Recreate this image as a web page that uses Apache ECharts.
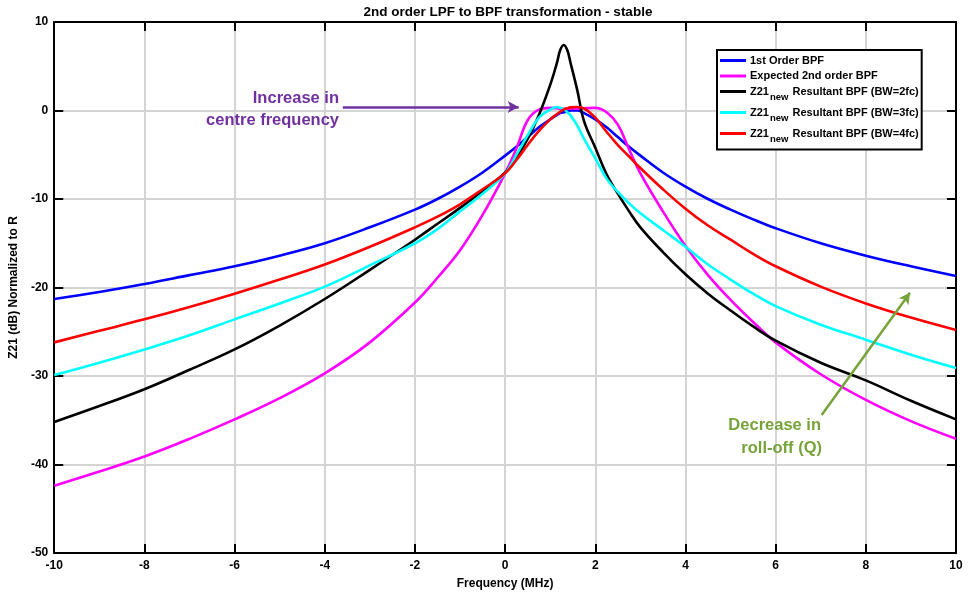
<!DOCTYPE html>
<html>
<head>
<meta charset="utf-8">
<script src="https://cdn.jsdelivr.net/npm/echarts@6/dist/echarts.min.js"></script>
<style>
html,body{margin:0;padding:0;background:#fff;}
#chart{width:968px;height:598px;}
</style>
</head>
<body>
<div id="chart"></div>
<script>
// Frequency grid (MHz) shared by all curves
const freq = [-10,-9,-8,-7,-6,-5,-4,-3,-2,-1.5,-1,-0.5,0,0.25,0.5,0.75,1,1.15,1.22,1.3,1.38,1.45,1.6,1.75,2,2.25,2.5,2.75,3,3.5,4,4.5,5,5.5,6,7,8,9,10];

// Series values (dB)
const firstOrderBPF = [-21.3,-20.5,-19.6,-18.6,-17.6,-16.4,-15.0,-13.2,-11.2,-10.0,-8.6,-7.0,-5.1,-4.1,-3.0,-1.9,-1.0,-0.5,-0.3,-0.2,-0.1,0.0,0.0,-0.3,-1.0,-1.9,-3.0,-4.1,-5.1,-7.0,-8.6,-10.0,-11.2,-12.3,-13.3,-15.0,-16.4,-17.6,-18.7];
const expected2ndBPF = [-42.4,-40.8,-39.1,-37.1,-34.9,-32.5,-29.7,-26.2,-21.7,-18.9,-15.8,-11.8,-7.1,-4.3,-1.1,0.1,0.3,0.25,0.2,0.2,0.2,0.2,0.2,0.25,0.3,-0.2,-1.6,-4.4,-7.1,-11.4,-15.3,-18.6,-21.4,-23.9,-26.2,-29.8,-32.7,-35.1,-37.1];
const resultantBW2 = [-35.2,-33.4,-31.5,-29.3,-27.0,-24.3,-21.3,-18.0,-14.6,-12.8,-11.0,-9.1,-7.0,-5.3,-3.2,-0.5,2.9,5.4,6.8,7.4,6.8,5.4,2.3,-1.2,-4.2,-7.2,-9.4,-11.4,-13.2,-16.0,-18.5,-20.7,-22.6,-24.4,-26.0,-28.5,-30.5,-32.8,-34.9];
const resultantBW3 = [-29.9,-28.5,-27.0,-25.4,-23.6,-21.8,-19.9,-17.5,-15.0,-13.4,-11.4,-9.4,-7.1,-5.0,-2.8,-0.8,0.1,0.4,0.3,0.15,-0.2,-0.55,-1.7,-3.2,-5.4,-7.7,-9.2,-10.5,-11.6,-13.5,-15.4,-17.4,-19.1,-20.7,-22.1,-24.2,-25.9,-27.6,-29.1];
const resultantBW4 = [-26.2,-24.9,-23.6,-22.2,-20.7,-19.1,-17.4,-15.4,-13.2,-12.0,-10.6,-8.9,-7.1,-5.6,-3.9,-2.3,-1.0,-0.4,-0.15,0.1,0.25,0.35,0.4,0.25,-0.8,-2.4,-3.9,-5.2,-6.5,-8.9,-11.1,-13.0,-14.6,-16.2,-17.6,-19.9,-21.8,-23.4,-24.8];

// Tick settings
const xTicks = {min: -10, max: 10, interval: 2};
const yTicks = {min: -50, max: 10, interval: 10};

const seriesNames = ['1st Order BPF','Expected 2nd order BPF','Z21new Resultant BPF (BW=2fc)','Z21new Resultant BPF (BW=3fc)','Z21new Resultant BPF (BW=4fc)'];
const seriesColors = ['#0000FF','#FF00FF','#000000','#00FFFF','#FF0000'];
const seriesValues = [firstOrderBPF, expected2ndBPF, resultantBW2, resultantBW3, resultantBW4];

// Annotation arrows in data coordinates
const arrowCentre = [[-3.6, 0.4], [0.3, 0.4]];
const arrowQ = [[7.02, -34.4], [8.98, -20.6]];

const FONT = 'Liberation Sans, Arial, sans-serif';
const chart = echarts.init(document.getElementById('chart'), null, {renderer: 'canvas'});

const series = seriesValues.map((vals, i) => ({
  name: seriesNames[i],
  type: 'line',
  data: freq.map((f, k) => [f, vals[k]]),
  showSymbol: false,
  smooth: 0.4,
  lineStyle: {color: seriesColors[i], width: 2.6},
  itemStyle: {color: seriesColors[i]},
  emphasis: {disabled: true},
  z: 3
}));

series.push({
  name: 'annotations',
  type: 'line',
  data: [],
  silent: true,
  markLine: {
    silent: true,
    animation: false,
    symbol: ['none', 'arrow'],
    symbolSize: [9, 11],
    label: {show: false},
    emphasis: {disabled: true},
    data: [
      [{coord: arrowCentre[0], lineStyle: {color: '#7030A0', width: 2.5, type: 'solid'}}, {coord: arrowCentre[1]}],
      [{coord: arrowQ[0], lineStyle: {color: '#76A33A', width: 2.5, type: 'solid'}}, {coord: arrowQ[1]}]
    ]
  }
});

const axisCommon = {
  type: 'value',
  axisLine: {show: true, onZero: false, lineStyle: {color: '#000', width: 2}},
  axisTick: {show: true, inside: true, length: 9, lineStyle: {color: '#000', width: 2}}
};

const option = {
  animation: false,
  backgroundColor: '#fff',
  title: {
    text: '2nd order LPF to BPF transformation - stable',
    left: 503, top: 0, textAlign: 'center',
    textStyle: {fontFamily: FONT, fontWeight: 'bold', fontSize: 13.5, color: '#000'}
  },
  grid: {left: 50, right: 12, top: 22, bottom: 45, containLabel: false},
  legend: {
    data: seriesNames,
    orient: 'vertical',
    left: 717, top: 50,
    backgroundColor: '#fff',
    borderColor: '#000', borderWidth: 2, borderRadius: 0,
    padding: [5, 3, 5, 3],
    itemGap: 4.5,
    itemWidth: 26, itemHeight: 3,
    icon: 'rect',
    selectedMode: false,
    textStyle: {
      fontFamily: FONT, fontWeight: 'bold', fontSize: 11, color: '#000', padding: [0,0,0,-1],
      rich: {
        sub: {fontFamily: FONT, fontWeight: 'bold', fontSize: 9.5, color: '#000', padding: [12, 1, 0, 1], verticalAlign: 'bottom'}
      }
    },
    formatter: name => name.replace('Z21new', 'Z21{sub|new}')
  },
  xAxis: [
    Object.assign({}, axisCommon, {
      position: 'bottom', min: xTicks.min, max: xTicks.max, interval: xTicks.interval,
      name: 'Frequency (MHz)', nameLocation: 'middle', nameGap: 25,
      nameTextStyle: {fontFamily: FONT, fontWeight: 'bold', fontSize: 12, color: '#000'},
      axisLabel: {margin: 7, fontFamily: FONT, fontWeight: 'bold', fontSize: 12, color: '#000'},
      splitLine: {show: true, lineStyle: {color: '#d4d4d4', width: 2}}
    }),
    Object.assign({}, axisCommon, {
      position: 'top', min: xTicks.min, max: xTicks.max, interval: xTicks.interval,
      axisLabel: {show: false}, splitLine: {show: false}
    })
  ],
  yAxis: [
    Object.assign({}, axisCommon, {
      position: 'left', min: yTicks.min, max: yTicks.max, interval: yTicks.interval,
      name: 'Z21 (dB) Normalized to R', nameLocation: 'middle', nameGap: 22,
      nameTextStyle: {fontFamily: FONT, fontWeight: 'bold', fontSize: 12, color: '#000'},
      axisLabel: {margin: 6, fontFamily: FONT, fontWeight: 'bold', fontSize: 12, color: '#000'},
      splitLine: {show: true, lineStyle: {color: '#d4d4d4', width: 2}}
    }),
    Object.assign({}, axisCommon, {
      position: 'right', min: yTicks.min, max: yTicks.max, interval: yTicks.interval,
      axisLabel: {show: false}, splitLine: {show: false}
    })
  ],
  graphic: [
    {type: 'text', x: 339, y: 98, style: {text: 'Increase in', fill: '#7030A0', font: 'bold 16.5px ' + FONT, textAlign: 'right', textVerticalAlign: 'middle'}, z: 100},
    {type: 'text', x: 339, y: 120, style: {text: 'centre frequency', fill: '#7030A0', font: 'bold 16.5px ' + FONT, textAlign: 'right', textVerticalAlign: 'middle'}, z: 100},
    {type: 'text', x: 821, y: 425, style: {text: 'Decrease in', fill: '#76A33A', font: 'bold 16.5px ' + FONT, textAlign: 'right', textVerticalAlign: 'middle'}, z: 100},
    {type: 'text', x: 822, y: 448, style: {text: 'roll-off (Q)', fill: '#76A33A', font: 'bold 16.5px ' + FONT, textAlign: 'right', textVerticalAlign: 'middle'}, z: 100}
  ],
  series: series
};
chart.setOption(option);
</script>
</body>
</html>
